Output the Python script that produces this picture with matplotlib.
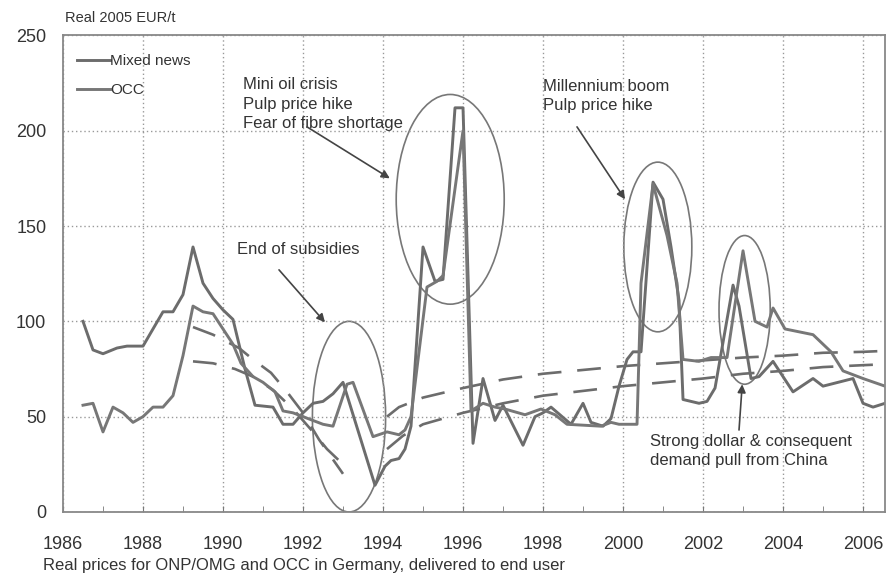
import matplotlib.pyplot as plt
from matplotlib.patches import Ellipse
import numpy as np

plt.rcParams['font.family'] = ['Liberation Sans', 'DejaVu Sans']

#============================== data

# series starting at ~100 in 1986
mixed_x = [1986.5, 1986.75, 1987.0, 1987.35, 1987.6, 1988.0, 1988.25, 1988.5, 1988.75, 1989.0,
           1989.25, 1989.5, 1989.75, 1990.0, 1990.25, 1990.55, 1990.8, 1991.25, 1991.5, 1991.75,
           1992.0, 1992.25, 1992.5, 1992.75, 1993.0, 1993.8, 1994.05, 1994.2, 1994.4, 1994.55,
           1994.7, 1995.0, 1995.3, 1995.5, 1995.8, 1996.0, 1996.25, 1996.5, 1996.8, 1997.0,
           1997.5, 1997.8, 1998.0, 1998.2, 1998.7, 1999.0, 1999.2, 1999.5, 1999.7, 1999.9,
           2000.1, 2000.25, 2000.45, 2000.75, 2001.0, 2001.2, 2001.4, 2001.5, 2001.9, 2002.1,
           2002.3, 2002.75, 2002.9, 2003.2, 2003.4, 2003.75, 2004.25, 2004.75, 2005.0, 2005.75,
           2006.0, 2006.25, 2006.55]
mixed_y = [100, 85, 83, 86, 87, 87, 96, 105, 105, 114,
           139, 120, 112, 106, 101, 75, 56, 55, 46, 46,
           52, 57, 58, 62, 68, 14, 24, 27, 28, 33,
           45, 139, 121, 122, 212, 212, 36, 70, 48, 56,
           35, 50, 52, 55, 46, 57, 47, 45, 49, 66,
           80, 84, 84, 173, 164, 139, 111, 59, 57, 58,
           65, 119, 108, 70, 71, 79, 63, 70, 66, 70,
           57, 55, 57]

# series starting at ~56 in 1986
occ_x = [1986.5, 1986.75, 1987.0, 1987.25, 1987.5, 1987.75, 1988.0, 1988.25, 1988.5, 1988.75,
         1989.0, 1989.25, 1989.5, 1989.75, 1990.0, 1990.25, 1990.45, 1990.75, 1991.0, 1991.3,
         1991.5, 1991.75, 1992.0, 1992.25, 1992.5, 1992.75, 1993.1, 1993.25, 1993.75, 1994.1,
         1994.4, 1994.55, 1994.7, 1995.1, 1995.35, 1995.5, 1996.0, 1996.2, 1996.5, 1996.8,
         1997.05, 1997.55, 1997.95, 1998.3, 1998.6, 1999.45, 1999.7, 1999.9, 2000.35, 2000.45,
         2000.75, 2001.1, 2001.35, 2001.5, 2001.9, 2002.2, 2002.6, 2003.0, 2003.3, 2003.6,
         2003.75, 2004.05, 2004.75, 2005.2, 2005.5, 2006.0, 2006.55]
occ_y = [56, 57, 42, 55, 52, 47, 50, 55, 55, 61,
         82, 108, 105, 104, 96, 88, 78, 71, 68, 63,
         53, 52, 50, 48, 46, 45, 67, 68, 39.5, 42,
         40.5, 43, 50, 118, 121, 124, 200, 53, 57, 55,
         54, 51, 54, 51, 46, 45, 47, 46, 46, 120,
         172, 145, 120, 80, 79, 81, 81, 137, 100, 97,
         107, 96, 93, 84, 74, 70, 66]

# trend lines (dashed)
trend1_x = [1989.25, 1989.75, 1990.4, 1990.75, 1991.2, 1991.6, 1992.0, 1992.4, 1993.0]
trend1_y = [97, 93, 86, 80, 73, 63, 52, 38, 20]
trend2_x = [1989.25, 1989.75, 1990.3, 1990.75, 1991.25, 1991.75, 1992.25, 1992.6, 1993.0]
trend2_y = [79, 78, 75, 71, 64, 54, 42, 33, 25]
trend3_x = [1994.1, 1994.4, 1995.0, 1996.0, 1997.0, 1998.0, 1999.0, 2000.0, 2001.0, 2002.0,
            2003.0, 2004.0, 2005.0, 2006.0, 2006.55]
trend3_y = [50, 55, 60, 65, 69.5, 72.5, 74.5, 76.5, 78, 79.5, 81, 82, 83.5, 84, 84.5]
trend4_x = [1994.1, 1994.5, 1995.0, 1996.0, 1997.0, 1998.0, 1999.0, 2000.0, 2001.0, 2002.0,
            2003.0, 2004.0, 2005.0, 2006.0, 2006.55]
trend4_y = [33, 40, 46, 52, 57, 61, 63.5, 66, 68, 70, 72.5, 74, 76, 77, 77.5]

#============================== plot

grey = '#6c6c6c'
txt = '#333333'

fig = plt.figure(figsize=(8.91, 5.77), dpi=100)
ax = fig.add_axes([0.0707, 0.1127, 0.9226, 0.826])

for xs, ys in [(trend1_x, trend1_y), (trend2_x, trend2_y), (trend3_x, trend3_y), (trend4_x, trend4_y)]:
    ax.plot(xs, ys, color=grey, lw=1.9, dashes=(9, 6))

ax.plot(mixed_x, mixed_y, color=grey, lw=2.1, label='Mixed news')
ax.plot(occ_x, occ_y, color='#777777', lw=2.1, label='OCC')

# ellipses round the events
for (cx, cy, w, h) in [(1993.15, 50, 1.83, 100), (1995.68, 164, 2.7, 110),
                       (2000.87, 139, 1.7, 89), (2003.04, 106, 1.28, 78)]:
    ax.add_patch(Ellipse((cx, cy), w, h, fc='none', ec='#777777', lw=1.2))

arrow = dict(arrowstyle='-|>', color='#444444', lw=1.2, mutation_scale=12, shrinkA=0, shrinkB=0)
ax.text(1990.5, 228, 'Mini oil crisis\nPulp price hike\nFear of fibre shortage',
        fontsize=12, color=txt, va='top', linespacing=1.35)
ax.annotate('', xy=(1994.17, 175), xytext=(1992.1, 202), arrowprops=arrow)

ax.text(1990.35, 134, 'End of subsidies', fontsize=12, color=txt, va='bottom')
ax.annotate('', xy=(1992.55, 99.5), xytext=(1991.4, 127), arrowprops=arrow)

ax.text(1998.0, 227, 'Millennium boom\nPulp price hike', fontsize=12, color=txt, va='top',
        linespacing=1.35)
ax.annotate('', xy=(2000.05, 164), xytext=(1998.85, 202), arrowprops=arrow)

ax.text(2000.67, 41, 'Strong dollar & consequent\ndemand pull from China', fontsize=12,
        color=txt, va='top', linespacing=1.35)
ax.annotate('', xy=(2002.98, 67), xytext=(2002.9, 43), arrowprops=arrow)

ax.set_xlim(1986, 2006.55)
ax.set_ylim(0, 250)
ax.set_xticks(np.arange(1986, 2007, 2))
ax.set_xticks(np.arange(1986, 2007, 1), minor=True)
ax.set_yticks(np.arange(0, 251, 50))
ax.grid(True, which='major', color='#999999', lw=1.0, linestyle=(0, (1, 2)))
ax.tick_params(axis='x', which='both', direction='in', length=4, color='#777777',
               labelsize=13, labelcolor=txt, pad=17)
ax.tick_params(axis='y', length=0, labelsize=13, labelcolor=txt, pad=12)
for s in ax.spines.values():
    s.set_color('#888888')
    s.set_linewidth(1.3)

leg = ax.legend(loc='upper left', frameon=False, fontsize=11, handlelength=2.2,
                handletextpad=0.0, labelspacing=1.0, bbox_to_anchor=(0.0, 0.99))
for t in leg.get_texts():
    t.set_color(txt)

fig.text(0.073, 0.968, 'Real 2005 EUR/t', fontsize=10.5, color=txt, va='center')
fig.text(0.048, 0.02, 'Real prices for ONP/OMG and OCC in Germany, delivered to end user',
         fontsize=12, color=txt, va='center')

fig.savefig('out.png', dpi=100)
